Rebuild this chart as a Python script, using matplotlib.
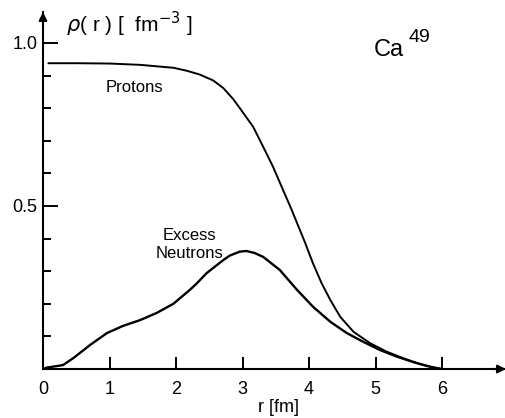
import matplotlib.pyplot as plt
import numpy as np

# Radial densities of Ca49 (r in fm, rho in fm^-3)
r_protons = [0.08, 0.5, 1.0, 1.46, 1.96, 2.16, 2.36, 2.56, 2.71, 2.86, 2.96,
             3.16, 3.31, 3.46, 3.61, 3.74, 3.86, 3.94, 4.06, 4.19, 4.32, 4.47,
             4.67, 4.92, 5.17, 5.42, 5.67, 5.92, 6.0]
rho_protons = [0.938, 0.938, 0.937, 0.933, 0.924, 0.915, 0.903, 0.885, 0.862,
               0.828, 0.80, 0.743, 0.682, 0.62, 0.549, 0.488, 0.428, 0.388,
               0.324, 0.263, 0.212, 0.16, 0.114, 0.079, 0.053, 0.033, 0.015,
               0.002, 0.0]

r_neutrons = [0.0, 0.05, 0.3, 0.46, 0.71, 0.96, 1.2, 1.46, 1.71, 1.96, 2.21,
              2.31, 2.46, 2.56, 2.71, 2.81, 2.96, 3.06, 3.18, 3.31, 3.56, 3.81,
              4.06, 4.32, 4.57, 4.82, 5.07, 5.32, 5.57, 5.82, 6.0]
rho_neutrons = [0.0, 0.004, 0.012, 0.034, 0.074, 0.11, 0.132, 0.15, 0.172, 0.2,
                0.243, 0.262, 0.294, 0.31, 0.334, 0.348, 0.36, 0.362, 0.356,
                0.344, 0.304, 0.245, 0.191, 0.145, 0.11, 0.083, 0.058, 0.038,
                0.021, 0.007, 0.0]

x_ticks = [0, 1, 2, 3, 4, 5, 6]
y_major = [0.5, 1.0]
y_minor = [0.1, 0.2, 0.3, 0.4, 0.6, 0.7, 0.8, 0.9]

plt.rcParams['font.family'] = ['Liberation Sans', 'DejaVu Sans']
plt.rcParams['mathtext.fontset'] = 'dejavusans'

W, H = 506, 418
fig = plt.figure(figsize=(W / 100, H / 100), dpi=100)
ax = fig.add_axes([43 / W, (H - 369) / H, 463 / W, 357 / H])
ax.set_xlim(0, 463 / 66.5)
ax.set_ylim(0, 357 / 326)

ax.plot(r_protons, rho_protons, color='black', lw=1.4,
        solid_capstyle='round', solid_joinstyle='round')
ax.plot(r_neutrons, rho_neutrons, color='black', lw=1.7,
        solid_capstyle='round', solid_joinstyle='round')

# axes drawn as arrows
for s in ['top', 'right']:
    ax.spines[s].set_visible(False)
for s in ['left', 'bottom']:
    ax.spines[s].set_linewidth(1.5)
ax.annotate('', xy=(1.0, 0), xytext=(0.97, 0), xycoords='axes fraction',
            arrowprops=dict(arrowstyle='-|>', color='black', lw=1.5,
                            mutation_scale=12, shrinkA=0, shrinkB=0),
            annotation_clip=False)
ax.annotate('', xy=(0, 1.0), xytext=(0, 0.96), xycoords='axes fraction',
            arrowprops=dict(arrowstyle='-|>', color='black', lw=1.5,
                            mutation_scale=12, shrinkA=0, shrinkB=0),
            annotation_clip=False)

ax.set_xticks(x_ticks)
ax.set_xticklabels([str(v) for v in x_ticks])
ax.set_yticks(y_major)
ax.set_yticklabels(['0.5', '1.0'])
ax.set_yticks(y_minor, minor=True)
ax.tick_params(axis='x', direction='in', length=9, width=1.4, pad=9, labelsize=13)
ax.tick_params(axis='y', which='major', direction='in', length=11, width=1.4,
               pad=4, labelsize=13)
ax.tick_params(axis='y', which='minor', direction='in', length=6, width=1.4)

fig.text(278 / W, 1 - 408 / H, 'r [fm]', ha='center', va='center', fontsize=13)
fig.text(66 / W, 1 - 24 / H, r'$\rho$( r ) [  fm$^{-3}$ ]', ha='left',
         va='center', fontsize=15)
fig.text(374 / W, 1 - 50 / H, 'Ca', ha='left', va='center', fontsize=17)
fig.text(409 / W, 1 - 37 / H, '49', ha='left', va='center', fontsize=14)

ax.text(1.38, 0.865, 'Protons', ha='center', va='center', fontsize=12)
ax.text(2.2, 0.41, 'Excess', ha='center', va='center', fontsize=12)
ax.text(2.2, 0.355, 'Neutrons', ha='center', va='center', fontsize=12)

fig.savefig('out.png', dpi=100)
